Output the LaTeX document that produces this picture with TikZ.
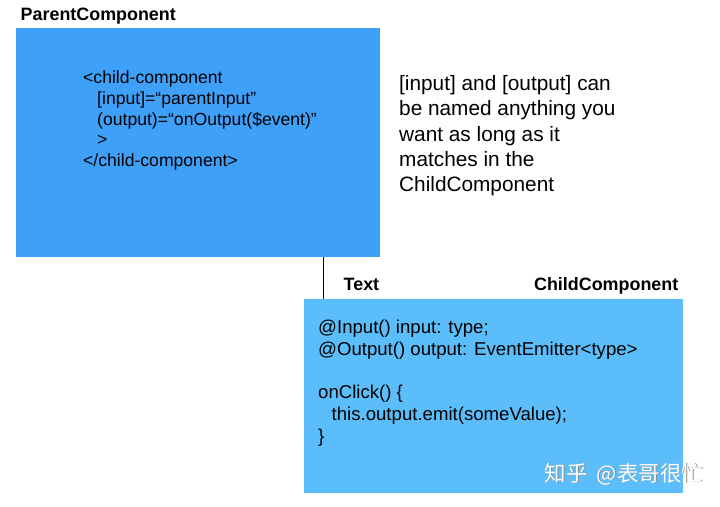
\documentclass[tikz,border=0pt]{standalone}
\usepackage{fontspec}
\setmainfont{Liberation Sans}
\newfontfamily\cjkfont{Noto Sans CJK SC}
\usetikzlibrary{positioning}
\definecolor{parentkek}{RGB}{62,160,248}
\definecolor{childkek}{RGB}{91,190,250}
\tikzset{
  blokk/.style={rectangle,inner sep=0pt,anchor=north west},
  cim/.style={inner sep=0pt,font=\fontsize{17.9}{21}\selectfont\bfseries},
  kod/.style={inner sep=0pt,anchor=base west,align=left},
  vonal/.style={line width=1.2pt},
}

\begin{document}
\begin{tikzpicture}[x=1pt,y=-1pt]
  \useasboundingbox (0,0) rectangle (720,506);
  % the two components
  \node[blokk,fill=parentkek,minimum width=364pt,minimum height=229pt] (parent) at (16,28) {};
  \node[blokk,fill=childkek,minimum width=379pt,minimum height=194pt] (child) at (304,299) {};
  \coordinate (kapu) at ([xshift=19.5pt]child.north west);
  \draw[vonal] (kapu) -- (kapu |- parent.south);
  % titles
  \node[cim,anchor=base west] (ptitle) at (20.5,20) {ParentComponent};
  \node[cim,anchor=base west] (ttitle) at (343.5,290.5) {Text};
  \node[cim,anchor=base east] (ctitle) at (678.5,290) {ChildComponent};
  % template in the parent (base = last line)
  \node[kod,font=\fontsize{17.6}{20.8}\selectfont] (ptempl) at (83,166.7)
    {<child-component\\
     \hspace*{14pt}{[input]=“parentInput”}\\
     \hspace*{14pt}(output)=“onOutput(\$event)”\\
     \hspace*{14pt}>\\
     </child-component>};
  % note
  \node[kod,font=\fontsize{20.8}{25.3}\selectfont] (megj) at (399,191.7)
    {{[input]} and [output] can\\
     be named anything you\\
     want as long as it\\
     matches in the\\
     ChildComponent};
  % class in the child
  \node[kod,font=\fontsize{18.6}{21.8}\selectfont] (ckod) at (318,442.5)
    {@Input() input: type;\\
     @Output() output: EventEmitter<type>\\[21.8pt]
     onClick() \{\\
     \hspace*{13.5pt}this.output.emit(someValue);\\
     \}};
  % watermark
  \node[inner sep=0pt,text=black!45,font=\cjkfont\fontsize{21.5}{24}\selectfont] (wmark-s) at (624.8,474.8) {知乎\hspace{4pt} @表哥很忙};
  \node[inner sep=0pt,text=white,font=\cjkfont\fontsize{21.5}{24}\selectfont] (wmark) at (624,474) {知乎\hspace{4pt} @表哥很忙};
\end{tikzpicture}
\end{document}
